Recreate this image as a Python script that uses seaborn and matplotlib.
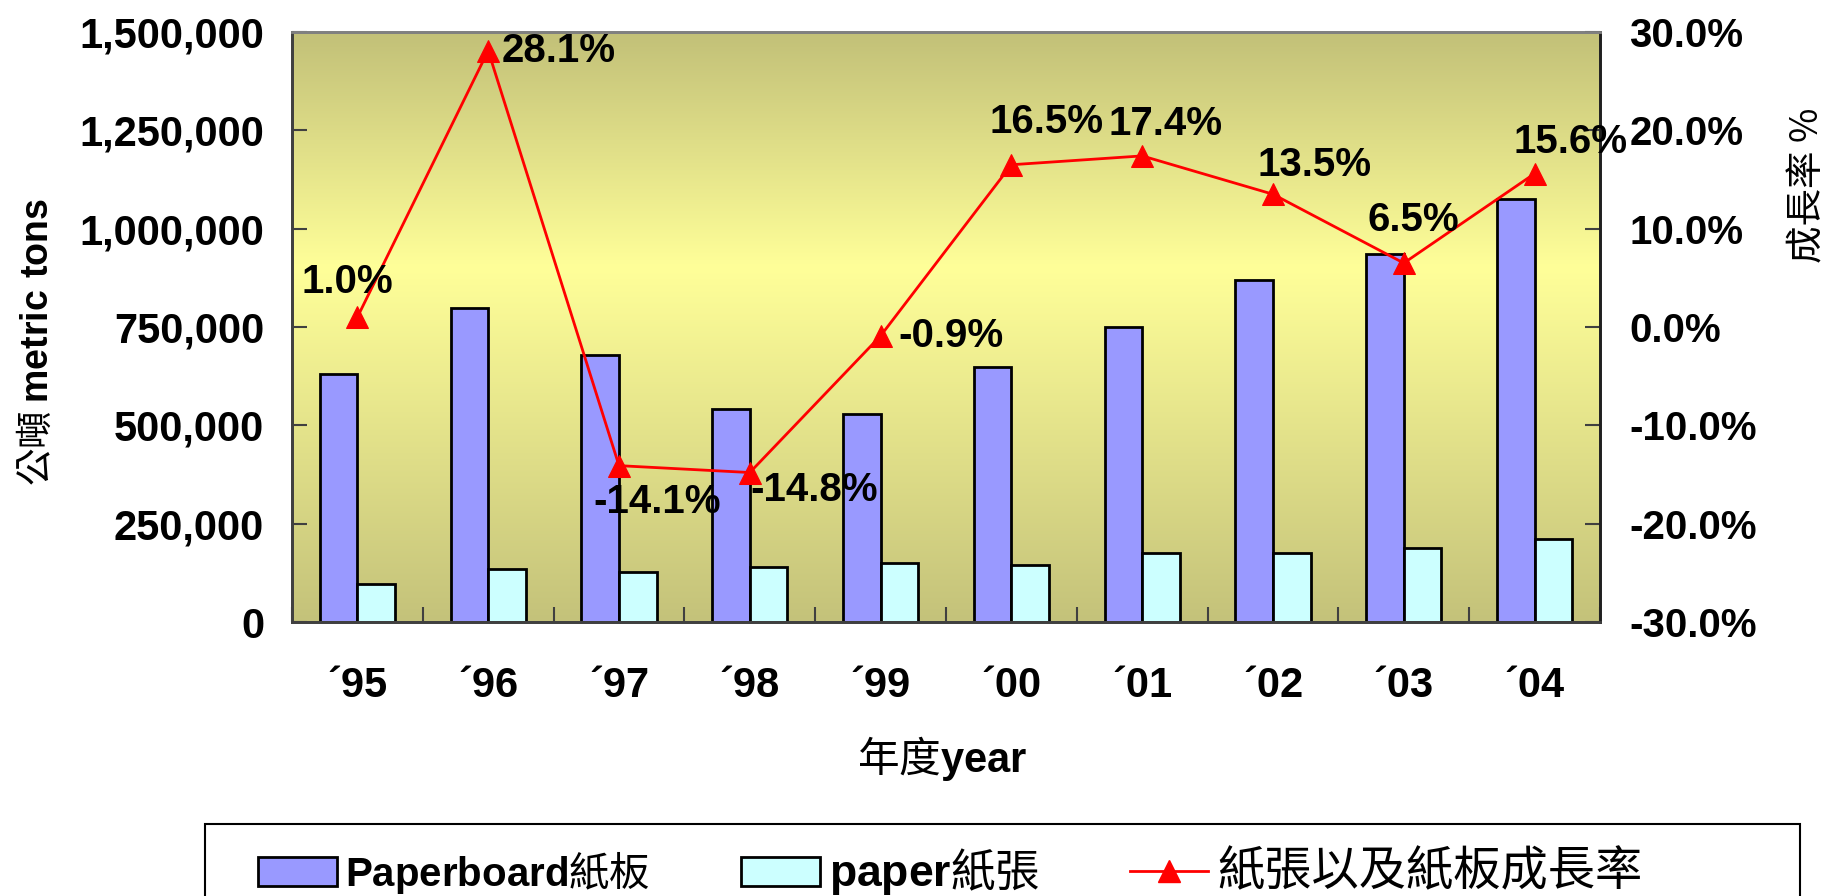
import numpy as np
import pandas as pd
import matplotlib
matplotlib.use("Agg")
import matplotlib.pyplot as plt
import seaborn as sns
from matplotlib.colors import LinearSegmentedColormap
from matplotlib.patches import Patch, Rectangle
from matplotlib.lines import Line2D
from matplotlib.ticker import FuncFormatter, FixedLocator
from matplotlib.font_manager import FontProperties

# ---------------- data ----------------
years = ["´95", "´96", "´97", "´98", "´99", "´00", "´01", "´02", "´03", "´04"]
paperboard = [631000, 798000, 679000, 541000, 529000, 648000, 750000, 870000, 935000, 1075000]
paper = [97000, 135000, 127000, 140000, 150000, 145000, 175000, 175000, 188000, 211000]
growth = [1.0, 28.1, -14.1, -14.8, -0.9, 16.5, 17.4, 13.5, 6.5, 15.6]
growth_labels = ["1.0%", "28.1%", "-14.1%", "-14.8%", "-0.9%", "16.5%", "17.4%", "13.5%", "6.5%", "15.6%"]
series_names = ["Paperboard紙板", "paper紙張"]
legend_labels = [r"$\mathbf{Paperboard}$紙板", r"$\mathbf{paper}$紙張", "紙張以及紙板成長率"]
left_ticks = [0, 250000, 500000, 750000, 1000000, 1250000, 1500000]
right_ticks = [-30, -20, -10, 0, 10, 20, 30]

# ---------------- style ----------------
plt.rcParams["mathtext.fontset"] = "custom"
plt.rcParams["mathtext.bf"] = "Liberation Sans:bold"
plt.rcParams["mathtext.rm"] = "Liberation Sans"
plt.rcParams["mathtext.default"] = "regular"

LAT = "Liberation Sans"
CJK = "Noto Sans CJK TC"
TICK_FS = 30
ANN_FS = 29

fig = plt.figure(figsize=(18.33, 8.96), dpi=100)
fig.patch.set_facecolor("white")
W, H = 1833, 896
ax_l, ax_r, ax_t, ax_b = 292, 1600, 32, 622
ax = fig.add_axes([ax_l / W, 1 - ax_b / H, (ax_r - ax_l) / W, (ax_b - ax_t) / H])

# gradient background
olive = "#C4C27A"
cmap = LinearSegmentedColormap.from_list("bg", [(0, olive), (0.6, "#FFFF99"), (1, "#C2C078")])
grad = np.linspace(0, 1, 256).reshape(-1, 1)
ax.imshow(grad, cmap=cmap, aspect="auto", extent=[0, 1, 0, 1], origin="lower",
          transform=ax.transAxes, zorder=0)

df = pd.DataFrame({
    "year": years * 2,
    "value": paperboard + paper,
    "type": [series_names[0]] * len(years) + [series_names[1]] * len(years),
})
sns.barplot(data=df, x="year", y="value", hue="type", order=years, hue_order=series_names,
            palette=["#9999FF", "#CCFFFF"], saturation=1, edgecolor="black", linewidth=2,
            width=0.575, ax=ax, legend=False, zorder=2)
ax.set_xlim(-0.5, len(years) - 0.5)
ax.set_ylim(0, 1500000)
ax.set_facecolor("none")

ax2 = ax.twinx()
x = np.arange(len(years))
sns.lineplot(x=x, y=growth, ax=ax2, color="red", lw=2, marker="^", markersize=16,
             markeredgecolor="red", zorder=5)
ax2.set_ylim(-30, 30)

# ticks
ax.yaxis.set_major_locator(FixedLocator(left_ticks))
ax.yaxis.set_major_formatter(FuncFormatter(lambda v, p: f"{v:,.0f}"))
ax2.yaxis.set_major_locator(FixedLocator(right_ticks))
ax2.yaxis.set_major_formatter(FuncFormatter(lambda v, p: f"{v:.1f}%"))
ax.set_xticks(x)
ax.set_xticklabels(years)
ax.set_xticks(np.arange(-0.5, len(years), 1), minor=True)
ax.tick_params(axis="x", which="major", length=0, pad=32)
ax.tick_params(axis="x", which="minor", direction="in", length=11, width=1.5, color="#404040")
ax.tick_params(axis="y", direction="in", length=11, width=1.5, color="#404040", pad=20)
ax2.tick_params(axis="y", direction="in", length=11, width=1.5, color="#404040", pad=21)
for lab in ax.get_xticklabels() + ax.get_yticklabels():
    lab.set_fontfamily(LAT)
    lab.set_fontweight("bold")
    lab.set_fontsize(TICK_FS)
for lab in ax2.get_yticklabels():
    lab.set_fontfamily(LAT)
    lab.set_fontweight("bold")
    lab.set_fontsize(29)

ax.set_xlabel("")
ax.set_ylabel("")
ax2.set_ylabel("")
for a in (ax, ax2):
    for s in a.spines.values():
        s.set_linewidth(2)
        s.set_color("#404040")
    a.spines["top"].set_color("#808080")
ax2.spines["right"].set_color("#202020")

# annotations (offsets in pixels)
offsets = [(-10, 35, "center"), (13, 0, "left"), (38, -36, "center"), (64, -17, "center"),
           (18, 0, "left"), (35, 43, "center"), (23, 32, "center"), (42, 29, "center"),
           (10, 43, "center"), (36, 32, "center")]
for xi, gi, lab, (dx, dy, ha) in zip(x, growth, growth_labels, offsets):
    ax2.annotate(lab, (xi, gi), xytext=(dx, dy), textcoords="offset pixels",
                 ha=ha, va="center", fontfamily=LAT, fontweight="bold",
                 fontsize=ANN_FS, zorder=6, annotation_clip=False)

# axis labels
fig.text(37 / W, 1 - 342 / H, r"公噸 $\mathbf{metric\ tons}$", rotation=90,
         ha="center", va="center", fontfamily=CJK, fontsize=27)
fig.text(942 / W, 1 - 758 / H, r"年度$\mathbf{year}$", ha="center", va="center",
         fontfamily=CJK, fontsize=30)
fig.text(1808 / W, 1 - 185 / H, "成長率 %", rotation=90, ha="center", va="center",
         fontfamily=CJK, fontsize=27)

# legend
handles = [Patch(facecolor="#9999FF", edgecolor="black", linewidth=2),
           Patch(facecolor="#CCFFFF", edgecolor="black", linewidth=2),
           Line2D([], [], color="red", lw=2, marker="^", markersize=16, markeredgecolor="red")]
leg = fig.legend(handles, legend_labels, loc="center left", bbox_to_anchor=(258 / W, 1 - 871 / H),
                 ncol=3, frameon=False, prop=FontProperties(family=CJK, size=29),
                 handlelength=1.95, handleheight=0.7, handletextpad=0.22, columnspacing=2.25,
                 borderpad=0, borderaxespad=0)
leg_texts = leg.get_texts()
leg_texts[1].set_fontsize(32)
leg_texts[2].set_fontsize(34)
fig.patches.append(Rectangle((205 / W, -0.1), 1595 / W, (1 - 824 / H) + 0.1,
                             transform=fig.transFigure, fill=False, edgecolor="black", lw=1.5))

fig.savefig("out.png", dpi=100)
